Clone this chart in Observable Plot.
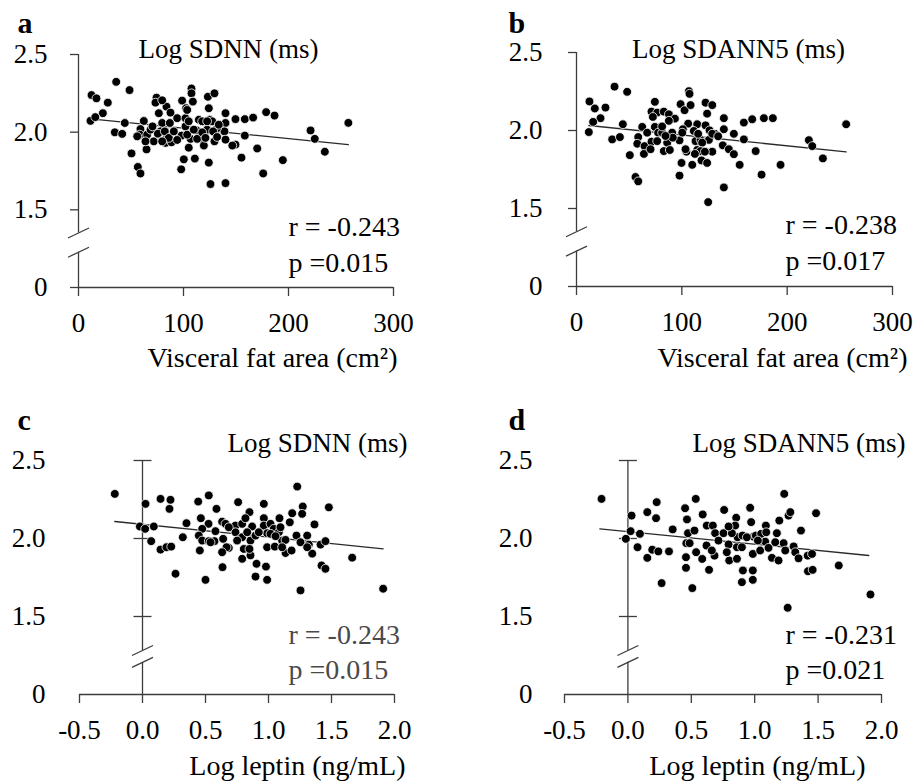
<!DOCTYPE html>
<html>
<head>
<meta charset="utf-8">
<script src="https://cdn.jsdelivr.net/npm/d3@7"></script>
<script src="https://cdn.jsdelivr.net/npm/@observablehq/plot@0.6"></script>
<style>
  body { margin: 0; background: #fff; }
  #grid { position: relative; width: 914px; height: 782px; background: #fff; }
  #grid > div { position: absolute; }
  svg { overflow: visible; }
</style>
</head>
<body>
<div id="grid"></div>
<script>
// ---------- DATA ----------
// Panel a: Visceral fat area (cm2) vs Log SDNN (ms)
const panelA = [[35.9,2.324],[48.6,2.271],[12.4,2.239],[17.1,2.218],[27.9,2.19],[23.2,2.122],[11.4,2.073],[16,2.097],[44.1,2.059],[34.6,1.999],[41.6,1.989],[50.5,1.863],[56.5,1.776],[59,1.734],[64.8,1.889],[62.2,2.072],[59,2.02],[58.4,1.984],[65.4,1.984],[71.7,1.941],[68.6,2.016],[74.3,2.222],[73.3,2.19],[76.5,2.122],[79.7,2.059],[78.1,2.005],[75.6,1.99],[83.8,2.164],[87.6,2.126],[94,2.09],[84.4,1.973],[82.9,1.931],[88.6,1.935],[87,2.059],[98.7,2.203],[107.6,2.281],[107.6,2.25],[108.9,2.197],[102.5,2.154],[101.9,2.09],[101.9,2.037],[98.1,1.978],[105,2.07],[106.7,1.957],[105,1.9],[100.3,1.825],[97.8,1.761],[110.8,1.83],[112.4,2.011],[114.6,2.08],[116.2,1.957],[119.4,1.914],[123.2,2.228],[129.5,2.25],[124.1,2.154],[125,2.08],[127.3,2.07],[122.5,2.016],[129.5,1.941],[124.1,1.804],[125.7,1.666],[140,1.672],[140,2.122],[140,2.059],[139,2.005],[140,1.952],[132,2.026],[149.5,1.92],[146.5,1.914],[149.5,2.084],[158.4,2.084],[166.3,2.094],[158.4,1.978],[155.2,1.836],[170.2,1.895],[178.7,2.129],[186.7,2.107],[194.6,1.82],[175.9,1.734],[221,2.011],[225,1.957],[234.6,1.874],[257,2.06],[70.5,2.037],[82.2,2.005],[86,1.963],[103.5,1.984],[113,1.957],[117.8,1.999],[120.9,1.963],[128.2,2.005],[132,1.969],[90.8,2.005],[117.8,2.07],[109.8,2.016],[94,1.95],[63.8,1.941],[79.7,1.941],[55.9,1.973],[103.5,2.143],[122.5,2.07],[133.6,2.048],[79.7,2.205]];
// Panel b: Visceral fat area (cm2) vs Log SDANN5 (ms)
const panelB = [[36.1,2.281],[48.1,2.248],[12.3,2.186],[17.4,2.141],[27.5,2.147],[22.8,2.079],[15.8,2.055],[11.7,1.99],[44,2.04],[33.9,1.943],[41.2,1.958],[50.6,1.842],[56,1.702],[58.6,1.674],[62.4,2.023],[58.6,1.958],[57.7,1.915],[64.6,1.9],[64,1.85],[71.2,1.928],[70.3,1.88],[74.4,2.184],[71.2,2.121],[76.6,2.115],[74.4,2.023],[77.5,1.986],[82.9,2.121],[87.7,2.104],[93.4,2.076],[81.3,1.986],[86.1,1.922],[82.9,1.868],[88.6,1.875],[98.8,2.169],[102.6,2.13],[106.7,2.252],[107.3,2.235],[108.3,2.163],[106,2.044],[101,2.008],[97.8,1.937],[104.4,1.864],[99.7,1.792],[97.8,1.711],[109.9,1.78],[113,1.932],[114.6,2.04],[117.8,1.94],[114.6,1.875],[118.7,1.808],[124,1.792],[122.5,2.178],[128.9,2.163],[124,2.108],[122.5,2.033],[126.3,2.001],[125.7,1.94],[128.9,1.864],[125,1.541],[139.9,1.635],[139.9,2.079],[139.9,2.008],[138.9,1.905],[131.4,1.979],[149.4,1.979],[144.6,1.88],[149.4,1.848],[154.9,1.78],[158.9,2.051],[158.9,1.943],[166.8,2.072],[177.9,2.079],[186.4,2.079],[170.1,1.868],[175.7,1.717],[193.7,1.78],[220.6,1.938],[223.8,1.9],[233.9,1.821],[256,2.04],[81.3,2.026],[90.8,1.986],[91.4,1.954],[84.5,1.965],[111.4,1.997],[115.5,1.979],[119.3,1.922],[117.8,1.868],[128.9,1.979],[134.5,1.963],[100.4,1.986],[112.4,1.85],[67.1,1.986],[76.6,1.932],[103.5,1.88],[121.9,1.864],[87.7,2.062],[72.5,2.087]];
// Panel c: Log leptin (ng/mL) vs Log SDNN (ms)
const panelC = [[-0.22,2.286],[0.024,2.222],[-0.021,2.077],[0.021,2.062],[0.09,2.077],[0.069,1.983],[0.143,2.254],[0.222,2.248],[0.214,2.19],[0.143,1.929],[0.19,1.944],[0.228,1.948],[0.262,1.774],[0.32,2.008],[0.349,2.098],[0.442,2.237],[0.526,2.276],[0.463,2.13],[0.524,2.094],[0.587,2.19],[0.474,2.062],[0.447,2.019],[0.474,1.987],[0.526,1.983],[0.571,1.983],[0.455,1.923],[0.5,1.735],[0.635,1.816],[0.632,2.108],[0.659,2.094],[0.685,1.94],[0.64,1.998],[0.759,2.233],[0.738,2.083],[0.738,2.04],[0.791,2.094],[0.849,2.169],[0.817,2.13],[0.791,2.008],[0.804,1.933],[0.857,1.987],[0.87,2.077],[0.791,1.87],[0.857,1.892],[0.905,1.838],[0.897,1.756],[0.963,2.222],[0.963,2.13],[0.963,2.083],[0.989,2.034],[0.989,1.944],[0.98,1.82],[0.989,1.735],[1.016,2.094],[1.042,2.062],[1.05,1.948],[1.087,2.13],[1.082,2.04],[1.108,1.987],[1.135,1.907],[1.183,1.923],[1.169,2.104],[1.188,2.162],[1.222,2.019],[1.228,2.333],[1.272,2.205],[1.267,2.158],[1.254,1.667],[1.307,2.019],[1.32,1.961],[1.365,2.09],[1.347,1.903],[1.413,1.961],[1.452,1.983],[1.421,1.827],[1.452,1.806],[1.479,2.2],[1.664,1.877],[1.91,1.678],[0.579,2.047],[0.685,2.072],[0.831,2.04],[0.897,2.019],[0.923,2.04],[1.016,2.03],[1.095,2.072],[1.135,1.991],[1.254,1.976],[1.307,1.944],[0.54,1.976],[0.751,1.987],[0.849,1.933],[0.667,1.944],[1.056,2.015],[0.632,1.912],[1.108,1.944]];
// Panel d: Log leptin (ng/mL) vs Log SDANN5 (ms)
const panelD = [[-0.208,2.254],[0.029,2.147],[0.021,2.047],[0.095,2.03],[-0.016,1.998],[0.076,1.944],[0.153,2.169],[0.227,2.233],[0.222,2.13],[0.192,1.928],[0.24,1.917],[0.153,1.876],[0.324,1.917],[0.266,1.714],[0.353,2.058],[0.451,2.194],[0.535,2.254],[0.466,2.122],[0.474,2.034],[0.461,1.97],[0.487,1.97],[0.458,1.88],[0.458,1.812],[0.508,1.682],[0.525,2.051],[0.538,1.912],[0.59,2.154],[0.622,2.083],[0.67,2.083],[0.62,1.955],[0.586,1.869],[0.64,1.799],[0.683,1.89],[0.688,2.034],[0.759,2.183],[0.754,2.034],[0.794,1.962],[0.799,1.859],[0.854,2.133],[0.865,2.008],[0.846,2.083],[0.82,2.034],[0.86,1.944],[0.907,1.795],[0.899,1.72],[0.964,2.197],[0.972,2.105],[0.99,2.012],[0.985,1.901],[0.985,1.795],[0.985,1.735],[1.009,2.019],[1.051,2.03],[1.043,1.923],[1.088,2.083],[1.083,1.98],[1.109,1.94],[1.136,1.876],[1.175,2.034],[1.188,1.859],[1.194,2.115],[1.228,1.97],[1.233,2.286],[1.267,2.147],[1.281,2.169],[1.26,1.556],[1.307,1.949],[1.32,1.912],[1.365,2.051],[1.346,1.873],[1.418,1.89],[1.452,1.901],[1.42,1.79],[1.457,1.799],[1.484,2.162],[1.663,1.827],[1.913,1.641],[0.662,1.923],[0.714,1.987],[0.794,2.077],[0.904,2.019],[0.938,2.008],[1.025,1.987],[1.091,2.04],[1.162,1.976],[0.899,1.944],[0.78,1.912],[1.241,1.923],[0.86,1.87]];

// Fitted regression lines (end points)
const fitA = [[11.4, 2.086], [257, 1.92]];
const fitB = [[11.7, 2.032], [256, 1.863]];
const fitC = [[-0.22, 2.109], [1.91, 1.934]];
const fitD = [[-0.221, 2.062], [1.9, 1.891]];

// Axis ticks and labels
const vfaTicks = [0, 100, 200, 300];
const leptinTicks = [-0.5, 0.0, 0.5, 1.0, 1.5, 2.0];
const yTicks = [1.0, 1.5, 2.0, 2.5];
const yTickLabels = ["0", "1.5", "2.0", "2.5"];
const yBreakAB = [1.351, 1.227];   // broken-axis marks (upper, lower)
const yBreakCD = [1.282, 1.206];

// Text
const panelLetters = ["a", "b", "c", "d"];
const panelTitles = ["Log SDNN (ms)", "Log SDANN5 (ms)", "Log SDNN (ms)", "Log SDANN5 (ms)"];
const rTexts = ["r = -0.243", "r = -0.238", "r = -0.243", "r = -0.231"];
const pTexts = ["p =0.015", "p =0.017", "p =0.015", "p =0.021"];
const xAxisLabels = ["Visceral fat area (cm\u00B2)", "Visceral fat area (cm\u00B2)", "Log leptin (ng/mL)", "Log leptin (ng/mL)"];

// ---------- LAYOUT / STYLE ----------
const FONT = "'Liberation Serif', 'Times New Roman', serif";
const AXIS = "#3c3c3c";
const W = 457, H = 391;

const slash = { draw(ctx) { ctx.moveTo(-10.5, 5); ctx.lineTo(10.5, -5); } };
const crossTick = { draw(ctx) { ctx.moveTo(-9, 0); ctx.lineTo(9, 0); } };

const layouts = [
  { ox: 0, oy: 0, m: [54, 64, 104, 78], data: panelA, fit: fitA, xDomain: [0, 300], xTicks: vfaTicks, xFmt: d => String(d),
    brk: yBreakAB, axisAtZero: false, tickPad: 23,
    letter: [17, 32], title: [228, 57, "middle"], r: [288, 235], p: [288, 271], xl: [397, 366], statColor: "#000" },
  { ox: 457, oy: 0, m: [52, 22, 105, 119], data: panelB, fit: fitB, xDomain: [0, 300], xTicks: vfaTicks, xFmt: d => String(d),
    brk: yBreakAB, axisAtZero: false, tickPad: 26,
    letter: [51, 32], title: [281, 57, "middle"], r: [328, 233], p: [328, 269], xl: [450, 366], statColor: "#000" },
  { ox: 0, oy: 391, m: [69, 63, 88, 79], data: panelC, fit: fitC, xDomain: [-0.5, 2.0], xTicks: leptinTicks, xFmt: d => d.toFixed(1),
    brk: yBreakCD, axisAtZero: true, tickPad: 34,
    letter: [17, 38], title: [407, 60, "end"], r: [288, 252], p: [288, 287], xl: [405, 383], statColor: "#4a4a4a" },
  { ox: 457, oy: 391, m: [69, 33, 88, 107], data: panelD, fit: fitD, xDomain: [-0.5, 2.0], xTicks: leptinTicks, xFmt: d => d.toFixed(1),
    brk: yBreakCD, axisAtZero: true, tickPad: 32,
    letter: [51, 38], title: [448, 60, "end"], r: [328, 252], p: [328, 287], xl: [408, 383], statColor: "#000" }
];

function label(str, pos, m, opts) {
  const [x, y] = pos;
  return Plot.text([str], {
    text: d => d, frameAnchor: "top-left",
    dx: x - m[3], dy: y - m[0], lineAnchor: "bottom",
    fontFamily: FONT, ...opts
  });
}

const grid = document.getElementById("grid");
layouts.forEach((L, i) => {
  const [mt, mr, mb, ml] = L.m;
  const pts = L.data.map(([x, y]) => ({ x, y }));
  const fit = L.fit.map(([x, y]) => ({ x, y }));
  const ax = L.axisAtZero ? 0 : L.xDomain[0];
  const ySegs = [{ y1: yTicks[yTicks.length - 1], y2: L.brk[0] }, { y1: L.brk[1], y2: yTicks[0] }];
  const yFmt = d => yTickLabels[yTicks.indexOf(d)];

  const marks = [
    // x axis line
    Plot.ruleY([yTicks[0]], { stroke: AXIS, strokeWidth: 1.3 }),
    // y axis line with break
    Plot.ruleX(ySegs, { x: ax, y1: "y1", y2: "y2", stroke: AXIS, strokeWidth: 1.3 }),
    Plot.dot(L.brk, { x: ax, y: d => d, symbol: slash, fill: "none", stroke: AXIS, strokeWidth: 1.3 }),
    Plot.axisX({ ticks: L.xTicks, tickFormat: L.xFmt, tickSize: 9, tickPadding: 16, stroke: AXIS, fill: "#000",
                 label: null, fontSize: 27, fontFamily: FONT, strokeWidth: 1.3 }),
    L.axisAtZero
      ? Plot.axisY({ ticks: yTicks, tickFormat: yFmt, tickSize: 0, tickPadding: L.tickPad, fill: "#000",
                     label: null, fontSize: 27, fontFamily: FONT })
      : Plot.axisY({ ticks: yTicks, tickFormat: yFmt, tickSize: 8, tickPadding: L.tickPad, stroke: AXIS, fill: "#000",
                     label: null, fontSize: 27, fontFamily: FONT, strokeWidth: 1.3 }),
    L.axisAtZero ? Plot.dot(yTicks.slice(1), { x: 0, y: d => d, symbol: crossTick, fill: "none", stroke: AXIS, strokeWidth: 1.3 }) : null,
    // regression line
    Plot.line(fit, { x: "x", y: "y", stroke: "#2a2a2a", strokeWidth: 1.3 }),
    // points
    Plot.dot(pts, { x: "x", y: "y", r: 4.4, fill: "#000", stroke: "#fff", strokeWidth: 0.8 }),
    // texts
    label(panelLetters[i], L.letter, L.m, { fontSize: 30, fontWeight: "bold", textAnchor: "start" }),
    label(panelTitles[i], [L.title[0], L.title[1]], L.m, { fontSize: 27, textAnchor: L.title[2] }),
    label(rTexts[i], L.r, L.m, { fontSize: 28, textAnchor: "start", fill: L.statColor }),
    label(pTexts[i], L.p, L.m, { fontSize: 28, textAnchor: "start", fill: L.statColor }),
    label(xAxisLabels[i], L.xl, L.m, { fontSize: 28, textAnchor: "end" })
  ].filter(Boolean);

  const chart = Plot.plot({
    width: W, height: H,
    marginTop: mt, marginRight: mr, marginBottom: mb, marginLeft: ml,
    x: { domain: L.xDomain },
    y: { domain: [yTicks[0], yTicks[yTicks.length - 1]] },
    style: { fontFamily: FONT, fontSize: "27px", background: "#fff", color: "#000", overflow: "visible" },
    marks
  });
  const div = document.createElement("div");
  div.style.left = L.ox + "px";
  div.style.top = L.oy + "px";
  div.appendChild(chart);
  grid.appendChild(div);
});
</script>
</body>
</html>
